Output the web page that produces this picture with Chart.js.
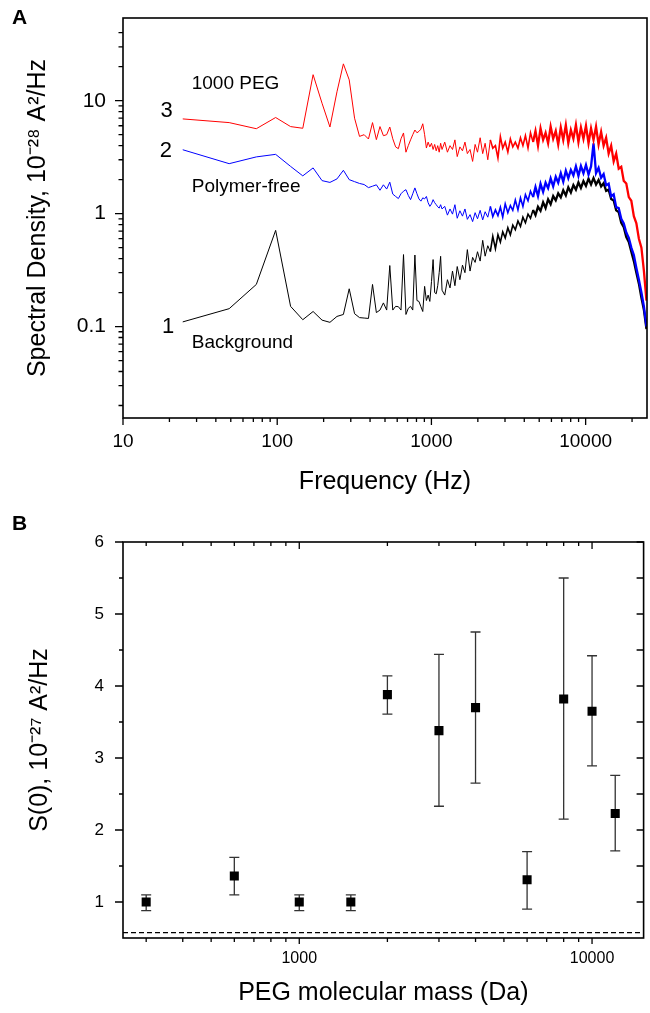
<!DOCTYPE html>
<html>
<head>
<meta charset="utf-8">
<script src="https://cdn.jsdelivr.net/npm/chart.js@4.4.1/dist/chart.umd.min.js"></script>
<style>
  html, body { margin: 0; padding: 0; background: #fff; }
  #wrap { position: relative; width: 650px; height: 1013px; }
  #cA { position: absolute; left: 0; top: 0; }
  #cB { position: absolute; left: 0; top: 500px; }
</style>
</head>
<body>
<div id="wrap">
  <canvas id="cA" width="650" height="500"></canvas>
  <canvas id="cB" width="650" height="513"></canvas>
</div>
<script>
// ========= Panel A data (spectra) =========

const freq = [
  24.4, 48.8, 73.2, 97.7, 122.1, 146.5, 170.9, 195.3, 219.7, 244.1, 268.6, 293.0,
  317.4, 341.8, 366.2, 390.6, 415.0, 439.5, 463.9, 488.3, 512.7, 537.1, 561.5, 585.9,
  610.4, 634.8, 659.2, 683.6, 708.0, 732.4, 756.8, 781.3, 805.7, 830.1, 854.5, 878.9,
  903.3, 927.7, 952.1, 976.6, 1001.0, 1025.4, 1049.8, 1074.2, 1098.6, 1123.0, 1147.5, 1171.9,
  1220, 1270, 1320, 1370, 1420, 1470, 1530, 1590, 1650, 1710, 1780, 1850, 1920, 1990,
  2070, 2150, 2230, 2320, 2410, 2500, 2600, 2700, 2800, 2900, 3010, 3130, 3250, 3370,
  3500, 3640, 3780, 3920, 4070, 4230, 4390, 4560, 4730, 4910, 5100, 5300, 5500, 5710,
  5930, 6160, 6400, 6640, 6900, 7160, 7440, 7720, 8020, 8330, 8650, 8980, 9320, 9680,
  10050, 10440, 10840, 11250, 11680, 12130, 12600, 13080, 13580, 14100, 14640, 15200,
  15780, 16390, 17020, 17670, 18350, 19050, 19780, 20540, 21330, 22150, 23000, 23880, 24800
];

// curve 3, 1000 PEG
const peg1000 = [
  6.9, 6.4, 5.65, 7.1, 5.9, 5.7, 17.0, 9.5, 5.85, 12.0, 21.2, 15.3,
  7.0, 4.83, 5.0, 4.58, 6.4, 4.52, 5.9, 4.9, 5.0, 5.85, 4.6, 3.9,
  3.76, 4.6, 5.18, 3.5, 4.0, 4.5, 5.0, 5.5, 5.2, 5.35, 5.6, 6.25,
  5.0, 3.81, 4.3, 3.9, 4.2, 3.7, 4.1, 3.6, 4.0, 3.5, 4.2, 3.7,
  4.3, 3.5, 4.0, 3.7, 4.5, 3.2, 3.9, 3.6, 4.3, 3.4, 3.7, 2.9, 4.1, 3.5,
  4.7, 3.4, 4.2, 3.0, 4.5, 3.8, 4.0, 3.1, 4.8, 3.8, 4.3, 3.5, 4.6, 3.9,
  4.3, 3.8, 4.7, 4.0, 4.9, 3.8, 5.2, 4.3, 5.4, 4.0, 5.7, 4.5, 5.2, 4.2,
  5.9, 4.6, 5.4, 4.1, 5.8, 4.5, 6.1, 4.2, 5.5, 4.6, 6.1, 4.3, 5.8, 4.6,
  6.0, 4.2, 5.7, 4.5, 5.9, 4.1, 5.3, 4.0, 4.7, 3.4, 4.0, 2.9,
  3.4, 2.5, 2.6, 1.95, 1.85, 1.4, 1.3, 0.95, 0.82, 0.6, 0.5, 0.31, 0.17
];

// curve 2, polymer-free
const polymerFree = [
  3.68, 2.77, 3.18, 3.35, 2.62, 2.16, 2.54, 1.96, 1.89, 2.03, 2.42, 2.0,
  1.92, 1.85, 1.81, 1.70, 1.75, 1.80, 1.61, 1.80, 1.65, 1.90, 1.49, 1.42,
  1.36, 1.50, 1.58, 1.63, 1.45, 1.33, 1.50, 1.69, 1.50, 1.35, 1.29, 1.38,
  1.35, 1.42, 1.25, 1.16, 1.22, 1.33, 1.25, 1.20, 1.15, 1.12, 1.20, 1.10,
  1.16, 0.97, 1.10, 0.99, 1.20, 0.91, 1.06, 0.95, 1.10, 0.89, 0.98, 0.85, 1.02, 0.90,
  1.07, 0.88, 1.04, 0.93, 1.16, 0.94, 1.08, 0.96, 1.14, 0.93, 1.22, 1.02, 1.18, 1.07,
  1.32, 1.08, 1.38, 1.16, 1.47, 1.30, 1.58, 1.40, 1.72, 1.43, 1.84, 1.56, 1.88, 1.68,
  2.05, 1.74, 2.12, 1.88, 2.28, 1.92, 2.40, 2.06, 2.44, 2.18, 2.62, 2.16, 2.64, 2.28,
  2.70, 2.22, 2.62, 4.20, 2.28, 2.54, 2.08, 2.24, 1.78, 1.84, 1.42, 1.48,
  1.14, 1.12, 0.90, 0.82, 0.68, 0.61, 0.50, 0.43, 0.33, 0.26, 0.20, 0.15, 0.10
];

// curve 1, background
const background = [
  0.110, 0.144, 0.236, 0.711, 0.151, 0.115, 0.136, 0.114, 0.109, 0.123, 0.128, 0.216,
  0.130, 0.120, 0.119, 0.118, 0.236, 0.133, 0.140, 0.162, 0.140, 0.347, 0.140, 0.151,
  0.150, 0.140, 0.434, 0.128, 0.145, 0.151, 0.140, 0.430, 0.170, 0.167, 0.150, 0.136,
  0.227, 0.170, 0.190, 0.167, 0.250, 0.392, 0.200, 0.195, 0.230, 0.300, 0.419, 0.210,
  0.19, 0.26, 0.22, 0.31, 0.23, 0.34, 0.26, 0.35, 0.30, 0.48, 0.31, 0.41, 0.37, 0.46,
  0.38, 0.58, 0.42, 0.52, 0.46, 0.63, 0.49, 0.65, 0.56, 0.69, 0.61, 0.75, 0.65, 0.79,
  0.72, 0.86, 0.77, 0.93, 0.83, 0.99, 0.91, 1.08, 0.97, 1.15, 1.06, 1.26, 1.12, 1.34,
  1.21, 1.43, 1.31, 1.51, 1.39, 1.61, 1.45, 1.71, 1.54, 1.79, 1.63, 1.89, 1.69, 1.94,
  1.76, 2.04, 1.81, 2.06, 1.81, 1.99, 1.74, 1.86, 1.59, 1.63, 1.35, 1.31,
  1.07, 1.03, 0.83, 0.76, 0.62, 0.56, 0.46, 0.38, 0.30, 0.24, 0.18, 0.14, 0.095
];

const freqTicks = [10, 100, 1000, 10000];
const densityTicks = [0.1, 1, 10];
const freqRange = [10, 25000];
const densityRange = [0.0155, 54];

// ========= Panel B data (S(0) vs PEG mass) =========

const pegMass = [300, 600, 1000, 1500, 2000, 3000, 4000, 6000, 8000, 10000, 12000];
const s0 = [1.00, 1.36, 1.00, 1.00, 3.88, 3.38, 3.70, 1.31, 3.82, 3.65, 2.23];
const s0Hi = [1.10, 1.62, 1.10, 1.10, 4.14, 4.44, 4.75, 1.70, 5.50, 4.42, 2.76];
const s0Lo = [0.88, 1.10, 0.88, 0.88, 3.61, 2.33, 2.65, 0.90, 2.15, 2.89, 1.71];
const s0Baseline = 0.575;

const massTicks = [1000, 10000];
const s0Ticks = [1, 2, 3, 4, 5, 6];
const massRange = [250, 15000];
const s0Range = [0.5, 6];

// ========= helpers =========

const FONT = "Arial, 'Liberation Sans', Helvetica, sans-serif";

function logMinors(lo, hi) {
  const out = [];
  for (let e = -3; e <= 5; e++) {
    for (let m = 2; m <= 9; m++) {
      const v = m * Math.pow(10, e);
      if (v > lo && v < hi) out.push(v);
    }
  }
  return out;
}

// len > 0 : outward, len < 0 : inward
function tickMarks(chart, axisId, side, values, len) {
  const ctx = chart.ctx, a = chart.chartArea, s = chart.scales[axisId];
  ctx.beginPath();
  for (const v of values) {
    const p = s.getPixelForValue(v);
    if (side === "bottom") { ctx.moveTo(p, a.bottom); ctx.lineTo(p, a.bottom + len); }
    if (side === "top") { ctx.moveTo(p, a.top); ctx.lineTo(p, a.top - len); }
    if (side === "left") { ctx.moveTo(a.left, p); ctx.lineTo(a.left - len, p); }
    if (side === "right") { ctx.moveTo(a.right, p); ctx.lineTo(a.right + len, p); }
  }
  ctx.stroke();
}

function framePlugin(marks, letter, letterY) {
  return {
    id: "frame" + letter,
    afterDraw(chart) {
      const ctx = chart.ctx, a = chart.chartArea;
      ctx.save();
      ctx.strokeStyle = "#000";
      ctx.lineWidth = 1.6;
      ctx.strokeRect(a.left, a.top, a.right - a.left, a.bottom - a.top);
      ctx.lineWidth = 1.3;
      for (const m of marks) tickMarks(chart, m[0], m[1], m[2], m[3]);
      ctx.fillStyle = "#000";
      ctx.font = "bold 21px " + FONT;
      ctx.textAlign = "left";
      ctx.textBaseline = "middle";
      ctx.fillText(letter, 12, letterY);
      ctx.restore();
    }
  };
}

function titleOpts(text, size, pad) {
  return { display: true, text: text, color: "#000", font: { size: size, family: FONT }, padding: pad };
}

// keep the plot box where it is in the figure: no extra label padding
function fixBox(w, h) {
  return function (s) {
    if (w) s.width = w;
    if (h) s.height = h;
    s.paddingTop = 0; s.paddingBottom = 0; s.paddingLeft = 0; s.paddingRight = 0;
  };
}

// ========= Panel A chart =========

const curveLabels = [
  { f: 27.9, v: 14.1, text: "1000 PEG", size: 19, align: "left" },
  { f: 19.2, v: 8.17, text: "3", size: 22, align: "center" },
  { f: 19.0, v: 3.56, text: "2", size: 22, align: "center" },
  { f: 27.9, v: 1.744, text: "Polymer-free", size: 19, align: "left" },
  { f: 19.6, v: 0.1, text: "1", size: 22, align: "center" },
  { f: 27.9, v: 0.0722, text: "Background", size: 19, align: "left" }
];

const curveLabelPlugin = {
  id: "curveLabels",
  afterDatasetsDraw(chart) {
    const ctx = chart.ctx, sx = chart.scales.x, sy = chart.scales.y;
    ctx.save();
    ctx.fillStyle = "#000";
    ctx.textBaseline = "middle";
    for (const l of curveLabels) {
      ctx.font = l.size + "px " + FONT;
      ctx.textAlign = l.align;
      ctx.fillText(l.text, sx.getPixelForValue(l.f), sy.getPixelForValue(l.v));
    }
    ctx.restore();
  }
};

function spectrum(values, color) {
  return {
    data: freq.map((f, i) => ({ x: f, y: values[i] })),
    borderColor: color,
    borderWidth: 1,
    pointRadius: 0,
    tension: 0,
    borderJoinStyle: "miter",
    segment: {
      borderWidth: ctx => {
        const f = ctx.p0.parsed.x;
        if (f < 2400) return 1;
        if (f < 4500) return 1.6;
        return 2.3;
      }
    }
  };
}

new Chart(document.getElementById("cA"), {
  type: "line",
  data: {
    datasets: [
      spectrum(peg1000, "#ff0000"),
      spectrum(polymerFree, "#0000ff"),
      spectrum(background, "#000000")
    ]
  },
  options: {
    responsive: false,
    animation: false,
    layout: { padding: { left: 0, right: 3, top: 18, bottom: 0 } },
    plugins: { legend: { display: false }, tooltip: { enabled: false } },
    scales: {
      x: {
        type: "logarithmic",
        min: freqRange[0],
        max: freqRange[1],
        afterFit: fixBox(0, 82),
        afterBuildTicks(s) { s.ticks = freqTicks.map(v => ({ value: v })); },
        grid: { display: false, drawTicks: false },
        border: { display: false },
        ticks: {
          autoSkip: false, maxRotation: 0, padding: 12, color: "#000",
          font: { size: 19, family: FONT },
          callback: v => String(v)
        },
        title: titleOpts("Frequency (Hz)", 25, { top: 0, bottom: 3 })
      },
      y: {
        type: "logarithmic",
        min: densityRange[0],
        max: densityRange[1],
        afterFit: fixBox(123, 0),
        afterBuildTicks(s) { s.ticks = densityTicks.map(v => ({ value: v })); },
        grid: { display: false, drawTicks: false },
        border: { display: false },
        ticks: {
          autoSkip: false, padding: 17, color: "#000",
          font: { size: 21, family: FONT },
          callback: v => String(v)
        },
        title: titleOpts("Spectral Density, 10\u207B\u00B2\u2078 A\u00B2/Hz", 25, { top: 23, bottom: 0 })
      }
    }
  },
  plugins: [
    curveLabelPlugin,
    framePlugin([
      ["x", "bottom", freqTicks, 7],
      ["x", "bottom", logMinors(10, 25000), 4],
      ["y", "left", densityTicks, 8],
      ["y", "left", logMinors(0.0155, 45), 4.5]
    ], "A", 18)
  ]
});

// ========= Panel B chart =========

const errorBarPlugin = {
  id: "errorBars",
  beforeDatasetsDraw(chart) {
    const ctx = chart.ctx, sx = chart.scales.x, sy = chart.scales.y;
    ctx.save();
    ctx.strokeStyle = "#333";
    ctx.lineWidth = 1.3;
    ctx.beginPath();
    pegMass.forEach((m, i) => {
      const x = sx.getPixelForValue(m);
      const yh = sy.getPixelForValue(s0Hi[i]);
      const yl = sy.getPixelForValue(s0Lo[i]);
      ctx.moveTo(x, yh); ctx.lineTo(x, yl);
      ctx.moveTo(x - 5, yh); ctx.lineTo(x + 5, yh);
      ctx.moveTo(x - 5, yl); ctx.lineTo(x + 5, yl);
    });
    ctx.stroke();
    ctx.restore();
  }
};

new Chart(document.getElementById("cB"), {
  type: "scatter",
  data: {
    datasets: [
      {
        data: pegMass.map((m, i) => ({ x: m, y: s0[i] })),
        pointStyle: "rect",
        pointRadius: 6.4,
        backgroundColor: "#000",
        borderWidth: 0
      },
      {
        type: "line",
        data: [{ x: massRange[0], y: s0Baseline }, { x: massRange[1], y: s0Baseline }],
        borderColor: "#000",
        borderWidth: 1.1,
        borderDash: [5, 3],
        pointRadius: 0
      }
    ]
  },
  options: {
    responsive: false,
    animation: false,
    layout: { padding: { left: 0, right: 3, top: 42, bottom: 0 } },
    plugins: { legend: { display: false }, tooltip: { enabled: false } },
    scales: {
      x: {
        type: "logarithmic",
        min: massRange[0],
        max: massRange[1],
        afterFit: fixBox(0, 75),
        afterBuildTicks(s) { s.ticks = massTicks.map(v => ({ value: v })); },
        grid: { display: false, drawTicks: false },
        border: { display: false },
        ticks: {
          autoSkip: false, maxRotation: 0, padding: 11, color: "#000",
          font: { size: 16, family: FONT },
          callback: v => String(v)
        },
        title: titleOpts("PEG molecular mass (Da)", 25, { top: 0, bottom: 5 })
      },
      y: {
        type: "linear",
        min: s0Range[0],
        max: s0Range[1],
        afterFit: fixBox(123, 0),
        afterBuildTicks(s) { s.ticks = s0Ticks.map(v => ({ value: v })); },
        grid: { display: false, drawTicks: false },
        border: { display: false },
        ticks: {
          autoSkip: false, padding: 19, color: "#000",
          font: { size: 17, family: FONT },
          callback: v => String(v)
        },
        title: titleOpts("S(0), 10\u207B\u00B2\u2077 A\u00B2/Hz", 25, { top: 25, bottom: 0 })
      }
    }
  },
  plugins: [
    errorBarPlugin,
    framePlugin([
      ["x", "bottom", massTicks, 6],
      ["x", "bottom", logMinors(250, 15000), 4],
      ["x", "top", massTicks, -7],
      ["x", "top", logMinors(250, 15000), -4],
      ["y", "left", s0Ticks, 8],
      ["y", "left", [1.5, 2.5, 3.5, 4.5, 5.5], 4],
      ["y", "right", s0Ticks, -7],
      ["y", "right", [1.5, 2.5, 3.5, 4.5, 5.5], -7]
    ], "B", 24)
  ]
});
</script>
</body>
</html>
